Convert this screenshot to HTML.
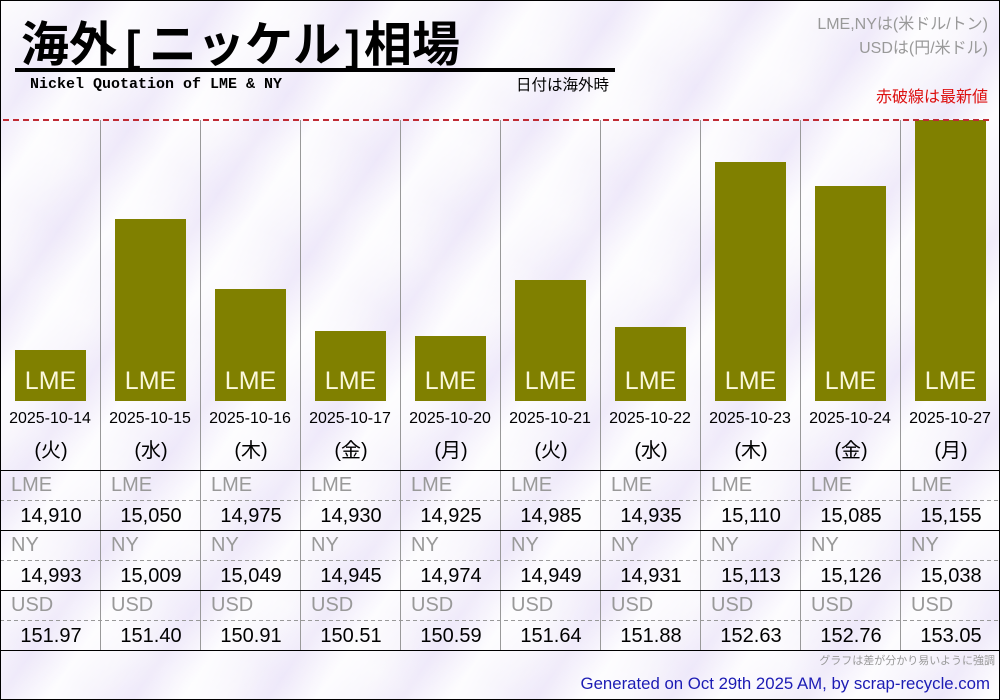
<!DOCTYPE html>
<html><head><meta charset="utf-8">
<style>
*{margin:0;padding:0;box-sizing:border-box}
html,body{width:1000px;height:700px;overflow:hidden}
body{position:relative;font-family:"Liberation Sans","Noto Sans CJK JP",sans-serif;
background-color:#f5f2fb;
background-image:
repeating-linear-gradient(125deg,rgba(255,255,255,0.8) 0px,rgba(255,255,255,0.3) 35px,rgba(232,224,248,0.45) 70px,rgba(255,255,255,0.8) 110px),
repeating-linear-gradient(35deg,rgba(255,255,255,0.3) 0px,rgba(238,232,250,0.3) 60px,rgba(255,255,255,0.3) 120px);
}
.a{position:absolute;white-space:nowrap}
.frame{position:absolute;left:0;top:0;width:1000px;height:700px;border:1px solid #000}
.title{left:21px;top:12px;height:56px;line-height:56px;font-size:48px;font-weight:700;color:#000;font-family:"Noto Sans CJK JP","Liberation Sans",sans-serif}
.br{display:inline-block;text-align:center;font-weight:700;font-size:44px;font-family:"Liberation Sans","Noto Sans CJK JP",sans-serif}
.vl{position:absolute;width:1px;background:#999;top:120px;height:531px}
.hl{position:absolute;left:0;width:1000px;height:1px;background:#000}
.dl{position:absolute;left:0;width:1000px;height:1px;background-image:repeating-linear-gradient(90deg,#999 0 4px,transparent 4px 7px)}
.bar{position:absolute;width:71px;background:#808000}
.bl{position:absolute;width:71px;text-align:center;color:#fbf8dc;font-size:25px;line-height:30px;top:366px}
.dt{position:absolute;width:100px;text-align:center;font-size:16px;line-height:20px;top:409px;color:#000}
.wd{position:absolute;width:100px;text-align:center;font-size:20px;line-height:26px;top:438px;color:#000}
.lb{position:absolute;font-size:20px;line-height:24px;color:#999}
.vv{position:absolute;width:100px;text-align:center;font-size:20px;line-height:24px;color:#000}
</style></head><body>

<div class="a title">海外<span class="br" style="width:32px">[</span>ニッケル<span class="br" style="width:23px">]</span>相場</div>
<div class="a" style="left:15px;top:68px;width:600px;height:4px;background:#000"></div>
<div class="a" style="left:30px;top:76px;line-height:18px;font-size:15px;font-weight:700;font-family:'Liberation Mono',monospace;color:#000">Nickel Quotation of LME &amp; NY</div>
<div class="a" style="left:516px;top:76px;line-height:20px;font-size:15.5px;color:#000">日付は海外時</div>

<div class="a" style="right:12px;top:14px;line-height:22px;font-size:16px;color:#999">LME,NYは(米ドル/トン)</div>
<div class="a" style="right:12px;top:38px;line-height:22px;font-size:16px;color:#999">USDは(円/米ドル)</div>
<div class="a" style="right:12px;top:87px;line-height:22px;font-size:16px;color:#dd1111">赤破線は最新値</div>

<!-- bars -->
<div class="bar" style="left:15px;top:350px;height:51px"></div>
<div class="bar" style="left:115px;top:219px;height:182px"></div>
<div class="bar" style="left:215px;top:289px;height:112px"></div>
<div class="bar" style="left:315px;top:331px;height:70px"></div>
<div class="bar" style="left:415px;top:336px;height:65px"></div>
<div class="bar" style="left:515px;top:280px;height:121px"></div>
<div class="bar" style="left:615px;top:327px;height:74px"></div>
<div class="bar" style="left:715px;top:162px;height:239px"></div>
<div class="bar" style="left:815px;top:186px;height:215px"></div>
<div class="bar" style="left:915px;top:120px;height:281px"></div>

<!-- red dashed line -->
<div class="a" style="left:3px;top:119px;width:988px;height:2px;background-image:repeating-linear-gradient(90deg,#c02a34 0 6px,transparent 6px 10px)"></div>

<!-- vertical lines -->
<div class="vl" style="left:100px"></div>
<div class="vl" style="left:200px"></div>
<div class="vl" style="left:300px"></div>
<div class="vl" style="left:400px"></div>
<div class="vl" style="left:500px"></div>
<div class="vl" style="left:600px"></div>
<div class="vl" style="left:700px"></div>
<div class="vl" style="left:800px"></div>
<div class="vl" style="left:900px"></div>

<!-- table lines -->
<div class="hl" style="top:470px"></div>
<div class="dl" style="top:500px"></div>
<div class="hl" style="top:530px"></div>
<div class="dl" style="top:560px"></div>
<div class="hl" style="top:590px"></div>
<div class="dl" style="top:620px"></div>
<div class="hl" style="top:650px"></div>

<!-- bar labels -->
<div class="bl" style="left:15px">LME</div>
<div class="bl" style="left:115px">LME</div>
<div class="bl" style="left:215px">LME</div>
<div class="bl" style="left:315px">LME</div>
<div class="bl" style="left:415px">LME</div>
<div class="bl" style="left:515px">LME</div>
<div class="bl" style="left:615px">LME</div>
<div class="bl" style="left:715px">LME</div>
<div class="bl" style="left:815px">LME</div>
<div class="bl" style="left:915px">LME</div>

<!-- dates -->
<div class="dt" style="left:0px">2025-10-14</div>
<div class="dt" style="left:100px">2025-10-15</div>
<div class="dt" style="left:200px">2025-10-16</div>
<div class="dt" style="left:300px">2025-10-17</div>
<div class="dt" style="left:400px">2025-10-20</div>
<div class="dt" style="left:500px">2025-10-21</div>
<div class="dt" style="left:600px">2025-10-22</div>
<div class="dt" style="left:700px">2025-10-23</div>
<div class="dt" style="left:800px">2025-10-24</div>
<div class="dt" style="left:900px">2025-10-27</div>

<div class="wd" style="left:1px">(火)</div>
<div class="wd" style="left:101px">(水)</div>
<div class="wd" style="left:201px">(木)</div>
<div class="wd" style="left:301px">(金)</div>
<div class="wd" style="left:401px">(月)</div>
<div class="wd" style="left:501px">(火)</div>
<div class="wd" style="left:601px">(水)</div>
<div class="wd" style="left:701px">(木)</div>
<div class="wd" style="left:801px">(金)</div>
<div class="wd" style="left:901px">(月)</div>

<!-- labels LME -->
<div class="lb" style="left:11px;top:473px">LME</div>
<div class="lb" style="left:111px;top:473px">LME</div>
<div class="lb" style="left:211px;top:473px">LME</div>
<div class="lb" style="left:311px;top:473px">LME</div>
<div class="lb" style="left:411px;top:473px">LME</div>
<div class="lb" style="left:511px;top:473px">LME</div>
<div class="lb" style="left:611px;top:473px">LME</div>
<div class="lb" style="left:711px;top:473px">LME</div>
<div class="lb" style="left:811px;top:473px">LME</div>
<div class="lb" style="left:911px;top:473px">LME</div>

<div class="vv" style="left:1px;top:504px">14,910</div>
<div class="vv" style="left:101px;top:504px">15,050</div>
<div class="vv" style="left:201px;top:504px">14,975</div>
<div class="vv" style="left:301px;top:504px">14,930</div>
<div class="vv" style="left:401px;top:504px">14,925</div>
<div class="vv" style="left:501px;top:504px">14,985</div>
<div class="vv" style="left:601px;top:504px">14,935</div>
<div class="vv" style="left:701px;top:504px">15,110</div>
<div class="vv" style="left:801px;top:504px">15,085</div>
<div class="vv" style="left:901px;top:504px">15,155</div>

<!-- NY -->
<div class="lb" style="left:11px;top:533px">NY</div>
<div class="lb" style="left:111px;top:533px">NY</div>
<div class="lb" style="left:211px;top:533px">NY</div>
<div class="lb" style="left:311px;top:533px">NY</div>
<div class="lb" style="left:411px;top:533px">NY</div>
<div class="lb" style="left:511px;top:533px">NY</div>
<div class="lb" style="left:611px;top:533px">NY</div>
<div class="lb" style="left:711px;top:533px">NY</div>
<div class="lb" style="left:811px;top:533px">NY</div>
<div class="lb" style="left:911px;top:533px">NY</div>

<div class="vv" style="left:1px;top:564px">14,993</div>
<div class="vv" style="left:101px;top:564px">15,009</div>
<div class="vv" style="left:201px;top:564px">15,049</div>
<div class="vv" style="left:301px;top:564px">14,945</div>
<div class="vv" style="left:401px;top:564px">14,974</div>
<div class="vv" style="left:501px;top:564px">14,949</div>
<div class="vv" style="left:601px;top:564px">14,931</div>
<div class="vv" style="left:701px;top:564px">15,113</div>
<div class="vv" style="left:801px;top:564px">15,126</div>
<div class="vv" style="left:901px;top:564px">15,038</div>

<!-- USD -->
<div class="lb" style="left:11px;top:593px">USD</div>
<div class="lb" style="left:111px;top:593px">USD</div>
<div class="lb" style="left:211px;top:593px">USD</div>
<div class="lb" style="left:311px;top:593px">USD</div>
<div class="lb" style="left:411px;top:593px">USD</div>
<div class="lb" style="left:511px;top:593px">USD</div>
<div class="lb" style="left:611px;top:593px">USD</div>
<div class="lb" style="left:711px;top:593px">USD</div>
<div class="lb" style="left:811px;top:593px">USD</div>
<div class="lb" style="left:911px;top:593px">USD</div>

<div class="vv" style="left:1px;top:624px">151.97</div>
<div class="vv" style="left:101px;top:624px">151.40</div>
<div class="vv" style="left:201px;top:624px">150.91</div>
<div class="vv" style="left:301px;top:624px">150.51</div>
<div class="vv" style="left:401px;top:624px">150.59</div>
<div class="vv" style="left:501px;top:624px">151.64</div>
<div class="vv" style="left:601px;top:624px">151.88</div>
<div class="vv" style="left:701px;top:624px">152.63</div>
<div class="vv" style="left:801px;top:624px">152.76</div>
<div class="vv" style="left:901px;top:624px">153.05</div>

<!-- footer -->
<div class="a" style="right:5px;top:654px;line-height:14px;font-size:11px;color:#999">グラフは差が分かり易いように強調</div>
<div class="a" style="right:10px;top:673px;line-height:22px;font-size:16.8px;color:#1c1cb4">Generated on Oct 29th 2025 AM, by scrap-recycle.com</div>

<div class="frame"></div>
</body></html>
